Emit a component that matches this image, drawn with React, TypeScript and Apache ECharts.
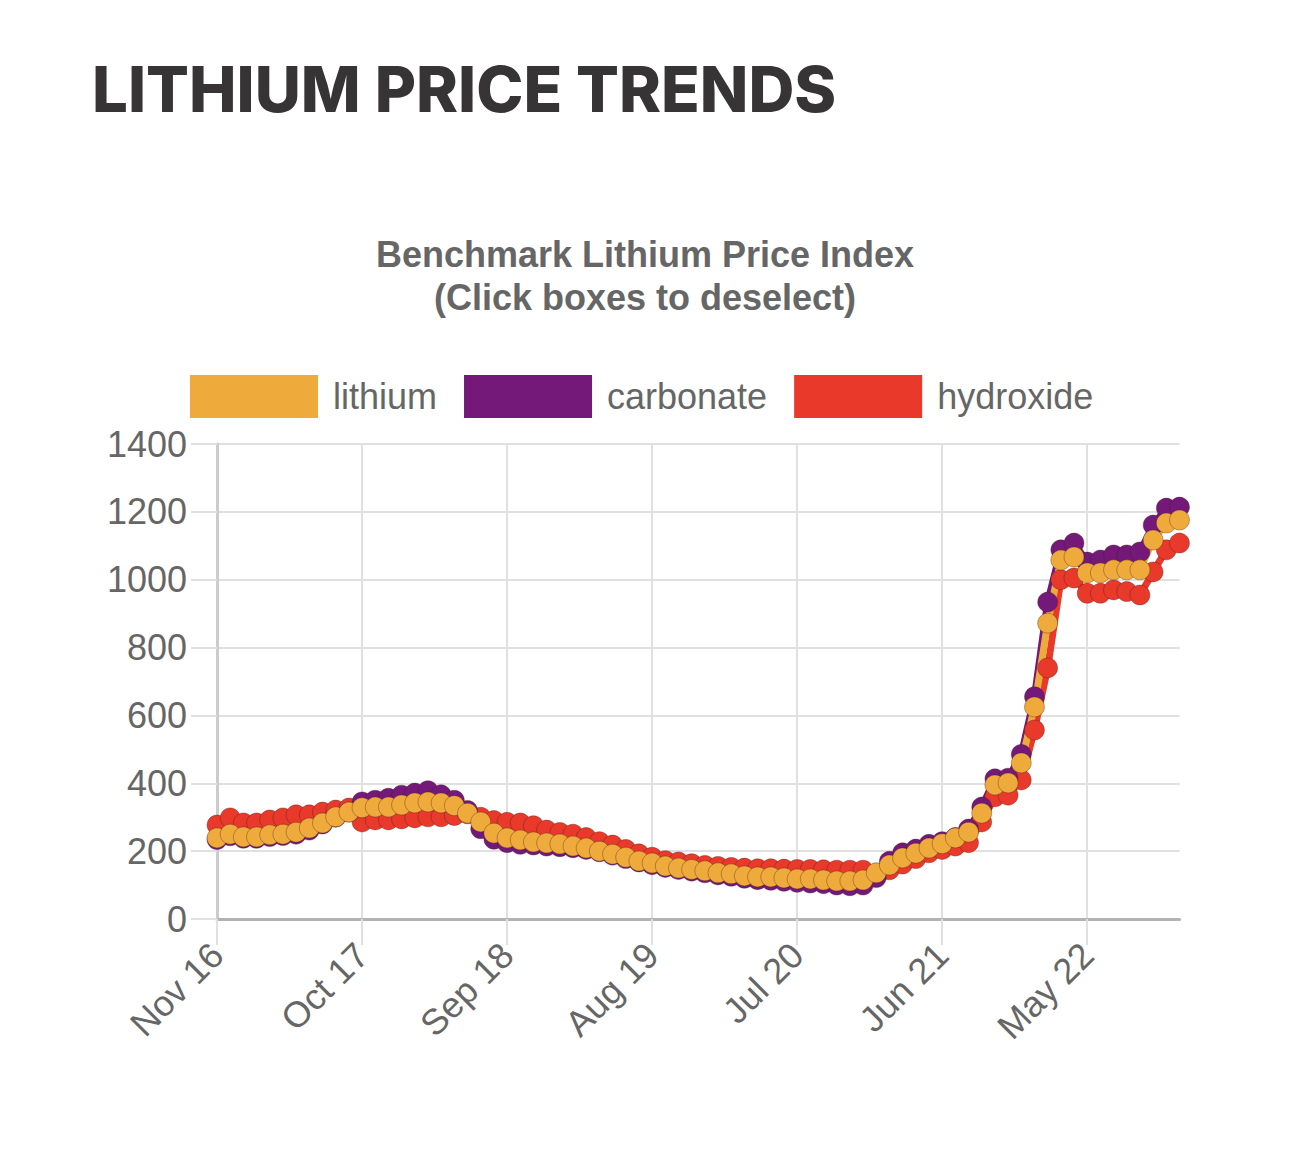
import React, { useEffect, useRef } from "react";
import * as echarts from "echarts";

const categories = [
  "Nov 16", "Dec 16",
  "Jan 17", "Feb 17", "Mar 17", "Apr 17", "May 17", "Jun 17", "Jul 17", "Aug 17", "Sep 17", "Oct 17", "Nov 17", "Dec 17",
  "Jan 18", "Feb 18", "Mar 18", "Apr 18", "May 18", "Jun 18", "Jul 18", "Aug 18", "Sep 18", "Oct 18", "Nov 18", "Dec 18",
  "Jan 19", "Feb 19", "Mar 19", "Apr 19", "May 19", "Jun 19", "Jul 19", "Aug 19", "Sep 19", "Oct 19", "Nov 19", "Dec 19",
  "Jan 20", "Feb 20", "Mar 20", "Apr 20", "May 20", "Jun 20", "Jul 20", "Aug 20", "Sep 20", "Oct 20", "Nov 20", "Dec 20",
  "Jan 21", "Feb 21", "Mar 21", "Apr 21", "May 21", "Jun 21", "Jul 21", "Aug 21", "Sep 21", "Oct 21", "Nov 21", "Dec 21",
  "Jan 22", "Feb 22", "Mar 22", "Apr 22", "May 22", "Jun 22", "Jul 22", "Aug 22", "Sep 22", "Oct 22", "Nov 22", "Dec 22",
];

const lithium = [
  239, 250, 242, 242, 248, 250, 256, 268, 283, 301,
  315, 328, 330, 330, 336, 342, 345, 342, 334, 312,
  286, 253, 239, 233, 227, 224, 221, 215, 209, 200,
  191, 182, 171, 165, 156, 150, 146, 142, 136, 133,
  127, 124, 124, 121, 118, 118, 115, 112, 112, 115,
  136, 159, 180, 194, 209, 222, 239, 256, 312, 395,
  401, 460, 625, 872, 1058, 1067, 1020, 1020, 1029, 1029,
  1029, 1117, 1167, 1176,
];

const carbonate = [
  234, 245, 238, 238, 243, 246, 250, 262, 280, 300,
  315, 345, 350, 356, 365, 371, 378, 366, 350, 320,
  266, 235, 225, 220, 218, 215, 213, 210, 205, 198,
  188, 178, 168, 160, 152, 146, 141, 136, 130, 126,
  120, 116, 114, 111, 108, 106, 104, 100, 98, 100,
  122, 170, 195, 206, 220, 228, 240, 265, 330, 413,
  415, 485, 655, 934, 1088, 1108, 1052, 1058, 1073, 1073,
  1082, 1161, 1211, 1214,
];

const hydroxide = [
  277, 298, 283, 283, 292, 298, 307, 307, 315, 321,
  327, 286, 292, 292, 295, 298, 301, 301, 305, 310,
  300, 290, 285, 283, 275, 262, 255, 250, 240, 228,
  218, 205, 192, 182, 172, 168, 163, 158, 155, 152,
  150, 148, 148, 147, 146, 146, 145, 144, 144, 144,
  135, 145, 162, 178, 195, 205, 215, 225, 286, 360,
  365, 410, 557, 740, 1000, 1005, 960, 960, 970, 965,
  955, 1023, 1088, 1108,
];

const seriesNames = ["lithium", "carbonate", "hydroxide"];
const seriesColors = ["#EFAA3C", "#741879", "#E8392A"];
const yTicks = { min: 0, max: 1400, interval: 200 };

const FONT = '"Liberation Sans", Arial, Helvetica, sans-serif';

export default function App() {
  const ref = useRef<HTMLDivElement>(null);

  useEffect(() => {
    if (!ref.current) return;
    const chart = echarts.init(ref.current, undefined, { renderer: "svg" });
    const dataMap: Record<string, number[]> = { lithium, carbonate, hydroxide };

    const makeSeries = (idx: number) => ({
      name: seriesNames[idx],
      type: "line",
      data: dataMap[seriesNames[idx]],
      symbol: "circle",
      symbolSize: 20,
      showSymbol: true,
      showAllSymbol: true,
      smooth: false,
      lineStyle: { color: seriesColors[idx], width: 7 },
      itemStyle: {
        color: seriesColors[idx],
        borderColor: "rgba(70,30,30,0.35)",
        borderWidth: 1,
      },
      emphasis: { disabled: true },
    });

    const option: any = {
      animation: false,
      backgroundColor: "#ffffff",
      textStyle: { fontFamily: FONT },
      graphic: [
        {
          type: "text",
          x: 92,
          y: 88,
          style: {
            text: "LITHIUM PRICE TRENDS",
            fontFamily: "Inter, 'Open Sans', sans-serif",
            fontWeight: 800,
            fontSize: 63.5,
            fill: "#363434",
            align: "left",
            verticalAlign: "middle",
            textAlign: "left",
            textVerticalAlign: "middle",
          },
        },
        {
          type: "text",
          x: 645,
          y: 254,
          style: {
            text: "Benchmark Lithium Price Index",
            fontFamily: FONT,
            fontWeight: "bold",
            fontSize: 36,
            fill: "#666666",
            align: "center",
            verticalAlign: "middle",
            textAlign: "center",
            textVerticalAlign: "middle",
          },
        },
        {
          type: "text",
          x: 645,
          y: 297,
          style: {
            text: "(Click boxes to deselect)",
            fontFamily: FONT,
            fontWeight: "bold",
            fontSize: 36,
            fill: "#666666",
            align: "center",
            verticalAlign: "middle",
            textAlign: "center",
            textVerticalAlign: "middle",
          },
        },
      ],
      legend: {
        data: seriesNames,
        left: 190,
        top: 375,
        padding: 0,
        itemWidth: 128,
        itemHeight: 43,
        itemGap: 27,
        icon: "rect",
        itemStyle: { borderWidth: 0 },
        textStyle: {
          fontFamily: FONT,
          fontSize: 36,
          color: "#666666",
          padding: [0, 0, 0, 10],
        },
      },
      grid: {
        left: 217,
        right: 110.5,
        top: 444,
        bottom: 233,
        containLabel: false,
      },
      xAxis: {
        type: "category",
        data: categories,
        boundaryGap: false,
        axisLine: { show: true, lineStyle: { color: "#b3b3b3", width: 3 } },
        axisTick: {
          show: true,
          interval: 10,
          length: 26,
          lineStyle: { color: "#e0e0e0", width: 2 },
        },
        splitLine: {
          show: true,
          interval: 10,
          lineStyle: { color: "#e0e0e0", width: 2 },
        },
        axisLabel: {
          interval: 10,
          rotate: 45,
          margin: 30,
          fontSize: 36,
          color: "#666666",
          fontFamily: FONT,
        },
      },
      yAxis: {
        type: "value",
        min: yTicks.min,
        max: yTicks.max,
        interval: yTicks.interval,
        axisLine: { show: true, lineStyle: { color: "#cccccc", width: 3 } },
        axisTick: { show: true, length: 26, lineStyle: { color: "#e0e0e0", width: 2 } },
        splitLine: { show: true, lineStyle: { color: "#e0e0e0", width: 2 } },
        axisLabel: {
          margin: 30,
          fontSize: 36,
          color: "#666666",
          fontFamily: FONT,
          formatter: (v: number) => String(v),
        },
      },
      series: [makeSeries(2), makeSeries(1), makeSeries(0)],
    };

    chart.setOption(option);
    return () => chart.dispose();
  }, []);

  return (
    <div
      ref={ref}
      style={{ position: "fixed", left: 0, top: 0, width: 1290, height: 1152, background: "#fff" }}
    />
  );
}
